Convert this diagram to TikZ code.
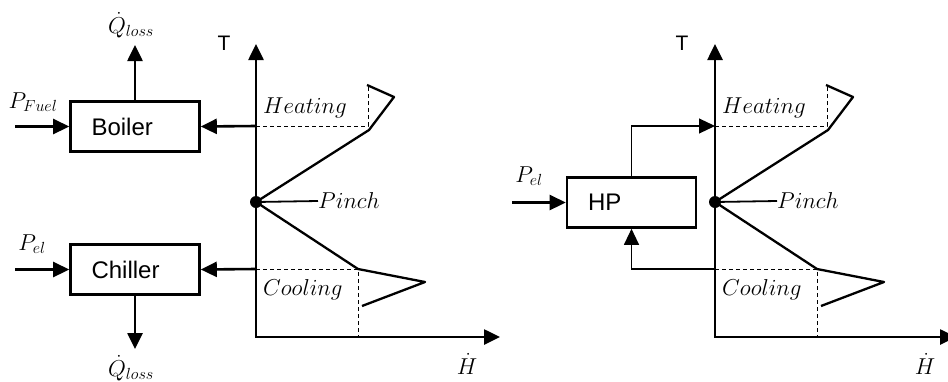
\RequirePackage{fix-cm}
\documentclass[tikz,border=0pt]{standalone}
\usepackage{fontspec}
\setsansfont{Liberation Sans}
\usetikzlibrary{arrows.meta}
\begin{document}
\begin{tikzpicture}[x=1pt,y=-1pt,
  thk/.style={line width=2.6pt},
  crv/.style={line width=2.3pt,line join=round},
  thin/.style={line width=1.1pt},
  dsh/.style={line width=1pt,dash pattern=on 4pt off 3pt},
  tip/.style={-{Triangle[length=16pt,width=15pt]}},
  axis/.style={thk,{Triangle[length=16pt,width=15pt]}-{Triangle[length=16pt,width=15pt]}},
  blk/.style={draw,line width=2.6pt,minimum height=50pt,text width=87pt,inner xsep=21pt,align=left,
    font=\sffamily\fontsize{24}{24}\selectfont},
  ml/.style={font=\fontsize{23}{23}\selectfont},
  al/.style={font=\sffamily\fontsize{21}{21}\selectfont},
  dot/.style={circle,fill,inner sep=0pt,minimum size=12pt}
]
\useasboundingbox (0,0) rectangle (948,381);

% ---------- left diagram ----------
\coordinate (t1) at (256,44);
\coordinate (o1) at (256,337);
\coordinate (x1) at (500,337);
\draw[axis] (t1) -- (o1) -- (x1);
\node[al] (tl1) at (224,43) {T};
\node[ml] (hl1) at (467,364) {$\dot{H}$};

\coordinate (h1) at (256,126);
\coordinate (hc1) at (368,126);
\coordinate (ht1) at (368,85);
\draw[dsh] (h1) -- (hc1) -- (ht1);
\coordinate (c1) at (256,269);
\coordinate (cc1) at (358,269);
\coordinate (cb1) at (358,337);
\draw[dsh] (c1) -- (cc1) -- (cb1);

\node[dot] (pd1) at (256,202) {};
\draw[crv] (pd1.center) -- (369,130) -- (394,97) -- (367,85);
\draw[crv] (pd1.center) -- (cc1) -- (425,282) -- (362,306);
\node[ml,anchor=west,inner xsep=0pt] (pl1) at (318,201) {$Pinch$};
\draw[line width=1.8pt] (pd1.center) -- (pl1.west);
\node[ml,anchor=base west,inner sep=0pt] (hn1) at (263,113) {$Heating$};
\node[ml,anchor=base west,inner sep=0pt] (cn1) at (263,295) {$Cooling$};

\node[blk] (boiler) at (135,126.5) {Boiler};
\node[blk] (chiller) at (135,269.5) {Chiller};
\draw[thk,tip] (h1) -- (boiler.east);
\draw[thk,tip] (c1) -- (chiller.east);

\coordinate (pf0) at (15,126.5);
\draw[thk,tip] (pf0) -- (boiler.west);
\node[ml] (pfl) at (33,102) {$P_{Fuel}$};
\coordinate (pe0) at (15,269.5);
\draw[thk,tip] (pe0) -- (chiller.west);
\node[ml] (pel1) at (32,244) {$P_{el}$};

\coordinate (qt) at (135,45);
\draw[thk,tip] (boiler.north) -- (qt);
\node[ml] (qtl) at (131,25) {$\dot{Q}_{loss}$};
\coordinate (qb) at (135,349);
\draw[thk,tip] (chiller.south) -- (qb);
\node[ml] (qbl) at (131,368) {$\dot{Q}_{loss}$};

% ---------- right diagram ----------
\coordinate (t2) at (715,44);
\coordinate (o2) at (715,337);
\coordinate (x2) at (956,337);
\draw[axis] (t2) -- (o2) -- (x2);
\node[al] (tl2) at (682,43) {T};
\node[ml] (hl2) at (925,364) {$\dot{H}$};

\coordinate (h2) at (715,126);
\coordinate (hc2) at (827,126);
\coordinate (ht2) at (827,85);
\draw[dsh] (h2) -- (hc2) -- (ht2);
\coordinate (c2) at (715,269);
\coordinate (cc2) at (817,269);
\coordinate (cb2) at (817,337);
\draw[dsh] (c2) -- (cc2) -- (cb2);

\node[dot] (pd2) at (715,202) {};
\draw[crv] (pd2.center) -- (828,130) -- (853,97) -- (826,85);
\draw[crv] (pd2.center) -- (cc2) -- (884,282) -- (821,306);
\node[ml,anchor=west,inner xsep=0pt] (pl2) at (777,201) {$Pinch$};
\draw[line width=1.8pt] (pd2.center) -- (pl2.west);
\node[ml,anchor=base west,inner sep=0pt] (hn2) at (722,113) {$Heating$};
\node[ml,anchor=base west,inner sep=0pt] (cn2) at (722,295) {$Cooling$};

\node[blk] (hp) at (631.5,202.5) {HP};
\draw[thin,tip] (hp.north) |- (h2);
\draw[thin,tip] (c2) -| (hp.south);
\coordinate (pe2) at (512,202.5);
\draw[thk,tip] (pe2) -- (hp.west);
\node[ml] (pel2) at (529,176) {$P_{el}$};
\end{tikzpicture}
\end{document}
